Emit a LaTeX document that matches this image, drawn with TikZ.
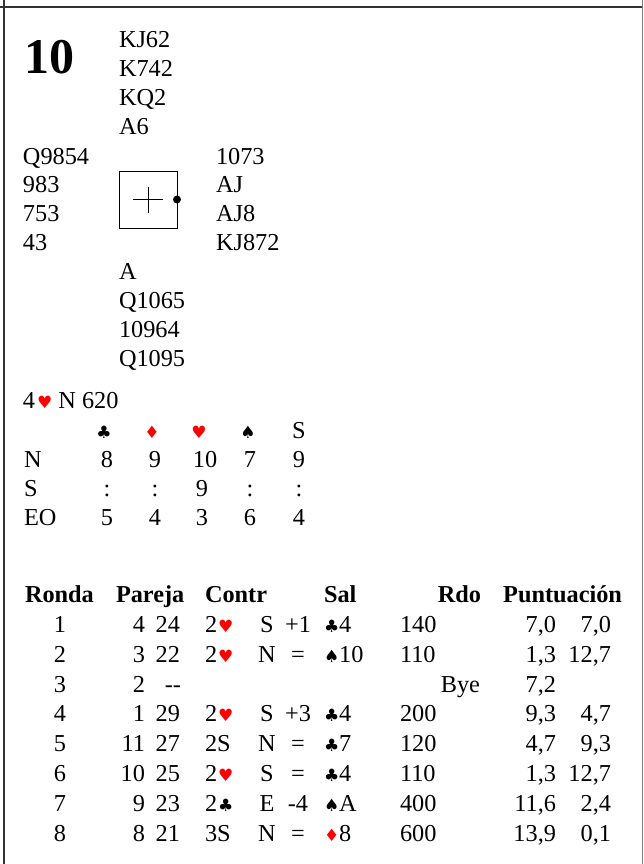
\documentclass[tikz,border=0pt]{standalone}
\usepackage{fontspec}
\setmainfont{Liberation Serif}
\newfontfamily\suitfont{DejaVu Sans}
\newcommand\suitsz{\suitfont\fontsize{17}{17}\selectfont}
\newcommand\suitH{{\suitsz\textcolor{red}{♥}}}
\newcommand\suitD{{\suitsz\textcolor{red}{♦}}}
\newcommand\suitC{{\suitsz ♣}}
\newcommand\suitS{{\suitsz ♠}}
\begin{document}
\begin{tikzpicture}[x=1pt,y=-1pt,
  every node/.style={inner sep=0pt, outer sep=0pt},
  txt/.style={anchor=base west, font=\fontsize{24.3}{29}\selectfont},
  txtc/.style={txt, anchor=base},
  txte/.style={txt, anchor=base east},
  hdw/.style={txt, font=\fontsize{24.3}{29}\selectfont\bfseries},
  hde/.style={hdw, anchor=base east},
  frameline/.style={line width=1.6pt, draw=black!80},
  framegray/.style={line width=1.6pt, draw=black!50},
  boxst/.style={draw, line width=1pt, minimum width=58pt, minimum height=57pt}]
\useasboundingbox (0,0) rectangle (644,864);
% frame
\coordinate (tl) at (0,7); \coordinate (tr) at (643,7);
\coordinate (lt) at (4,0); \coordinate (lb) at (4,864);
\coordinate (rt) at (642.5,0); \coordinate (rb) at (642.5,864);
\draw[frameline] (lt) -- (lb);
\draw[frameline] (tl) -- (tr);
\draw[framegray] (rt) -- (rb);
% board number
\node[anchor=base west, font=\fontsize{50}{50}\selectfont\bfseries] (board) at (24,74) {10};
% hands
\foreach \t [count=\i] in {KJ62,K742,KQ2,A6}
  \node[txt] (north\i) at (119,{48+28.9*(\i-1)}) {\t};
\foreach \t [count=\i] in {Q9854,983,753,43}
  \node[txt] (west\i) at (23,{164+28.9*(\i-1)}) {\t};
\foreach \t [count=\i] in {1073,AJ,AJ8,KJ872}
  \node[txt] (east\i) at (216,{164+28.9*(\i-1)}) {\t};
\foreach \t [count=\i] in {A,Q1065,10964,Q1095}
  \node[txt] (south\i) at (119,{279.5+28.9*(\i-1)}) {\t};
% table symbol
\node[boxst] (tbl) at (148,199.5) {};
\draw[line width=1pt] (tbl.center) +(-15,0) -- +(15,0);
\draw[line width=1pt] (tbl.center) +(0,-13) -- +(0,13);
\fill (tbl.east) circle (4pt);
% par contract
\node[txt] (par) at (23,408) {4\kern2pt\suitH\ N 620};
% tricks table
\node[txtc] (suc) at (104,438) {\suitC};
\node[txtc] (sud) at (152,438) {\suitD};
\node[txtc] (suh) at (199,438) {\suitH};
\node[txtc] (sus) at (248,438) {\suitS};
\node[txtc] (sunt) at (299,438) {S};
\node[txt] (lN) at (24,467) {N};
\node[txt] (lS) at (24,496) {S};
\node[txt] (lEO) at (24,525) {EO};
\foreach \x/\t [count=\i] in {107/8,155/9,205/10,250/7,299/9}
  \node[txtc] (tn\i) at (\x,467) {\t};
\foreach \x/\t [count=\i] in {107/:,155/:,202/9,250/:,299/:}
  \node[txtc] (ts\i) at (\x,496) {\t};
\foreach \x/\t [count=\i] in {107/5,155/4,202/3,250/6,299/4}
  \node[txtc] (te\i) at (\x,525) {\t};
% results header
\node[hdw] (hRonda) at (25,602) {Ronda};
\node[hdw] (hPareja) at (116,602) {Pareja};
\node[hdw] (hContr) at (205,602) {Contr};
\node[hdw] (hSal) at (324,602) {Sal};
\node[hde] (hRdo) at (481,602) {Rdo};
\node[hde] (hPunt) at (622,602) {Puntuación};
% result rows
\foreach \y/\r/\pa/\pb/\c/\d/\e/\s/\sc/\pu/\pv in {
  632/1/4/24/{2\kern1pt\suitH}/S/{+1}/{\suitC4}/140/{7,0}/{7,0},
  662/2/3/22/{2\kern1pt\suitH}/N/{=}/{\suitS10}/110/{1,3}/{12,7},
  721.5/4/1/29/{2\kern1pt\suitH}/S/{+3}/{\suitC4}/200/{9,3}/{4,7},
  751.5/5/11/27/{2S}/N/{=}/{\suitC7}/120/{4,7}/{9,3},
  781.5/6/10/25/{2\kern1pt\suitH}/S/{=}/{\suitC4}/110/{1,3}/{12,7},
  811/7/9/23/{2\kern1pt\suitC}/E/{-4}/{\suitS A}/400/{11,6}/{2,4},
  841/8/8/21/{3S}/N/{=}/{\suitD8}/600/{13,9}/{0,1}} {
  \node[txtc] (ronda\r) at (60,\y) {\r};
  \node[txte] (pa\r) at (145,\y) {\pa};
  \node[txte] (pb\r) at (180,\y) {\pb};
  \node[txt] (co\r) at (205,\y) {\c};
  \node[txtc] (de\r) at (267,\y) {\d};
  \node[txtc] (re\r) at (298,\y) {\e};
  \node[txt] (sa\r) at (324,\y) {\s};
  \node[txt] (sc\r) at (400,\y) {\sc};
  \node[txte] (pu\r) at (556,\y) {\pu};
  \node[txte] (pv\r) at (611,\y) {\pv};
}
\node[txtc] (ronda3) at (60,692) {3};
\node[txte] (pa3) at (145,692) {2};
\node[txte] (pb3) at (181,692) {-\kern0pt-};
\node[txte] (sc3) at (480,692) {Bye};
\node[txte] (pu3) at (556,692) {7,2};
\end{tikzpicture}
\end{document}
